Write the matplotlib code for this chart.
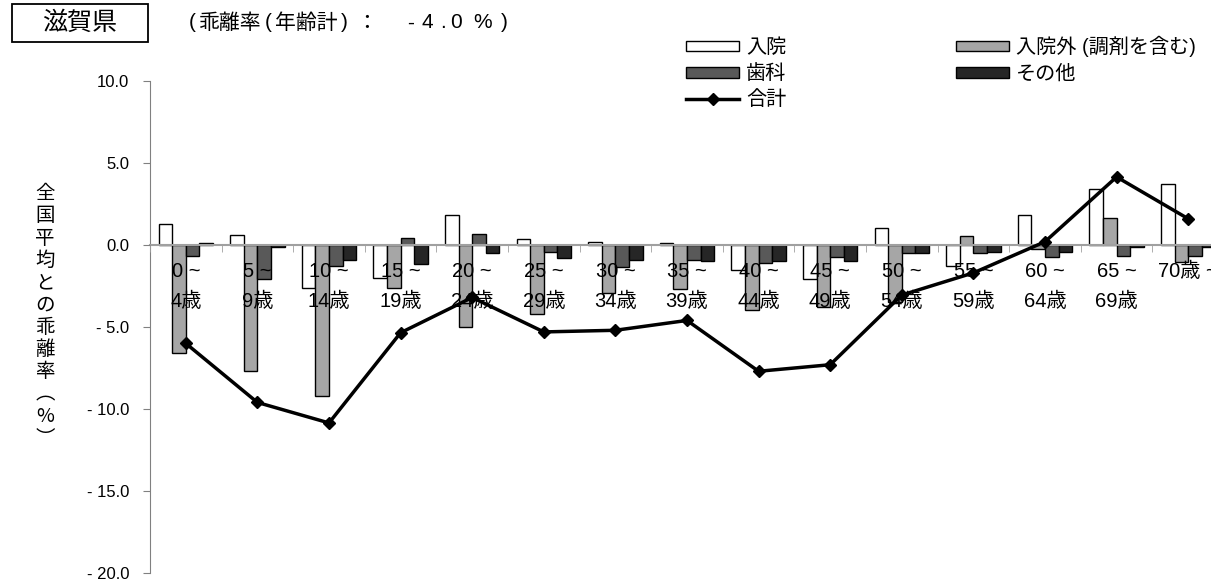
import numpy as np
import matplotlib
matplotlib.use("Agg")
import matplotlib.pyplot as plt
from matplotlib.patches import Rectangle

plt.rcParams['font.family'] = ['Liberation Sans', 'Noto Sans CJK JP', 'DejaVu Sans']

# age groups
age_labels = ['0 ~\n4歳', '5 ~\n9歳', '10 ~\n14歳', '15 ~\n19歳', '20 ~\n24歳',
              '25 ~\n29歳', '30 ~\n34歳', '35 ~\n39歳', '40 ~\n44歳', '45 ~\n49歳',
              '50 ~\n54歳', '55 ~\n59歳', '60 ~\n64歳', '65 ~\n69歳', '70歳 ~']

# deviation from national average (%)
inpatient = [1.3, 0.6, -2.6, -2.0, 1.8, 0.35, 0.2, 0.1, -1.5, -2.1, 1.05, -1.25, 1.8, 3.4, 3.75]
outpatient = [-6.6, -7.7, -9.2, -2.6, -5.0, -4.2, -2.95, -2.7, -3.95, -3.8, -3.45, 0.55, -0.25, 1.65, -1.05]
dental = [-0.65, -2.1, -1.3, 0.45, 0.7, -0.4, -1.35, -0.9, -1.1, -0.75, -0.5, -0.5, -0.75, -0.65, -0.65]
other = [0.1, -0.15, -0.9, -1.15, -0.5, -0.8, -0.9, -1.0, -1.0, -1.0, -0.5, -0.4, -0.4, -0.15, -0.15]
total = [-6.0, -9.6, -10.85, -5.35, -3.2, -5.3, -5.2, -4.6, -7.7, -7.3, -3.05, -1.7, 0.2, 4.15, 1.6]

series_names = ['入院', '入院外 (調剤を含む)', '歯科', 'その他']
series_colors = ['#ffffff', '#a6a6a6', '#595959', '#262626']
yticks = [-20, -15, -10, -5, 0, 5, 10]

W, H = 1211, 584
fig = plt.figure(figsize=(W / 100, H / 100), dpi=100)
ax = fig.add_axes([150 / W, 1 - 573 / H, (1224 - 150) / W, (573 - 81) / H])
ax.set_axisbelow(False)

x = np.arange(len(age_labels))
bw = 0.19
bars = []
for i, (vals, name, col) in enumerate(zip([inpatient, outpatient, dental, other],
                                          series_names, series_colors)):
    b = ax.bar(x + (i - 1.5) * bw, vals, bw, color=col, edgecolor='black',
               linewidth=1, label=name, zorder=2)
    bars.append(b)

line, = ax.plot(x, total, color='black', lw=2.5, marker='D', markersize=6.5,
                label='合計', zorder=4)

ax.set_xlim(-0.5, len(age_labels) - 0.5)
ax.set_ylim(-20, 10)
ax.set_yticks(yticks)
ax.set_yticklabels([('- %.1f' % -v) if v < 0 else '%.1f' % v for v in yticks], fontsize=12)

ax.spines['top'].set_visible(False)
ax.spines['right'].set_visible(False)
ax.spines['left'].set_color('#808080')
ax.spines['bottom'].set_position(('data', 0))
ax.spines['bottom'].set_color('#a0a0a0')
ax.spines['bottom'].set_linewidth(1.5)

ax.set_xticks(x)
ax.set_xticklabels(age_labels, fontsize=14.5, linespacing=1.75)
ax.set_xticks(np.arange(-0.5, len(age_labels), 1), minor=True)
ax.tick_params(axis='x', which='major', length=0, pad=12)
ax.tick_params(axis='x', which='minor', length=5, color='#a0a0a0', direction='out')
ax.tick_params(axis='y', length=5, color='#808080', pad=10)

# y label as vertical text
ylab = '全国平均との乖離率︵%︶'
fig.text(45 / W, 1 - 316 / H, '\n'.join(ylab), ha='center', va='center',
         fontsize=14, linespacing=1.08, family=['Noto Sans CJK JP', 'DejaVu Sans'])

# title box
fig.add_artist(Rectangle((12 / W, 1 - 42 / H), 136 / W, 38 / H, transform=fig.transFigure,
                         fill=False, edgecolor='black', lw=1.3))
fig.text(80 / W, 1 - 23 / H, '滋賀県', ha='center', va='center', fontsize=18)

# subtitle, spaced out like the original
title_parts = [(189, '('), (199, '乖離率'), (265, '('), (275, '年齢計'), (341, ')'),
               (356, '：'), (407, '-'), (421, '4'), (440, '.'), (450, '0'),
               (473, '%'), (501, ')')]
for px, s in title_parts:
    fig.text(px / W, 1 - 23 / H, s, ha='left', va='center', fontsize=15)

handles = [bars[0], bars[2], line, bars[1], bars[3]]
labels = ['入院', '歯科', '合計', '入院外 (調剤を含む)', 'その他']
fig.legend(handles, labels, loc='upper left', bbox_to_anchor=(686 / W, 1 - 36 / H),
           ncol=2, frameon=False, fontsize=14.5, borderpad=0, borderaxespad=0,
           handlelength=2.65, handleheight=0.45, handletextpad=0.35,
           labelspacing=0.35, columnspacing=8.4)

fig.savefig('out.png', dpi=100)
